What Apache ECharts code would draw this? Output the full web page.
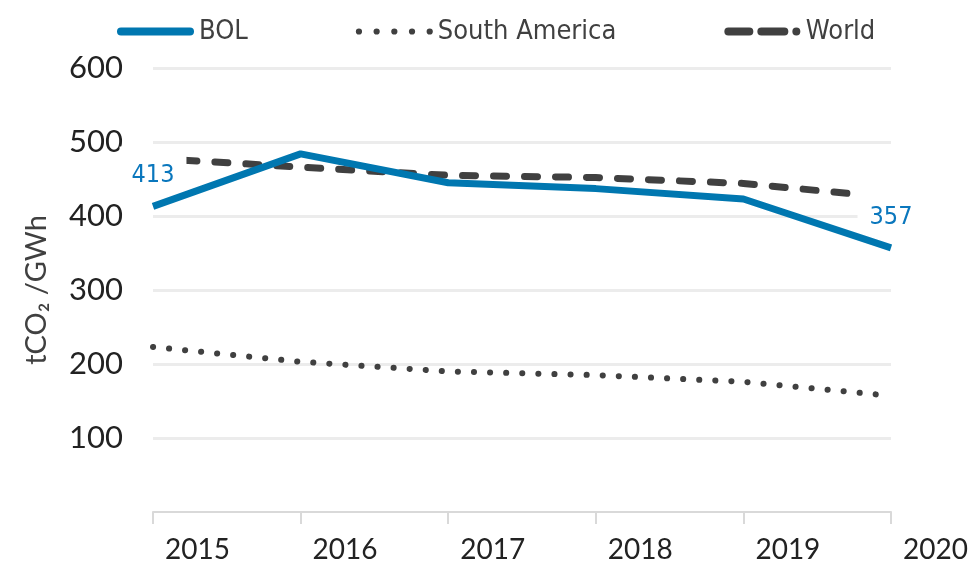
<!DOCTYPE html>
<html>
<head>
<meta charset="utf-8">
<script src="https://cdn.jsdelivr.net/npm/echarts@6/dist/echarts.min.js"></script>
<style>
  html, body { margin: 0; padding: 0; background: #fff; }
  #chart { width: 969px; height: 563px; }
</style>
</head>
<body>
<div id="chart"></div>
<script>
// data
const years = ['2015', '2016', '2017', '2018', '2019', '2020']
const bol = [413, 484, 445, 437, 423, 357]
const southAmerica = [223, 203, 190, 185, 176, 157]
const world = [478, 466, 455, 452, 444, 425]

const narrow = "'Liberation Sans Narrow', 'DejaVu Sans Condensed', 'Roboto', sans-serif"

// legend icons: thick line, row of dots, dash-dash-dot
const dot = (cx, r) => 'M' + (cx - r) + ',4 A' + r + ',' + r + ' 0 1,0 ' + (cx + r) + ',4 A' + r + ',' + r + ' 0 1,0 ' + (cx - r) + ',4 Z '
const pill = (x0, x1) => 'M' + (x0 + 4) + ',0 H' + (x1 - 4) + ' A4,4 0 0,1 ' + (x1 - 4) + ',8 H' + (x0 + 4) + ' A4,4 0 0,1 ' + (x0 + 4) + ',0 Z '
const iconLine = 'path://' + pill(0, 77)
const iconDots = 'path://' + [3, 20, 37, 54, 71].map(c => dot(c, 3)).join('')
const iconDash = 'path://' + pill(0, 29) + pill(33, 64) + dot(72, 4)

// first and last BOL values get a label on a white box
const last = bol.length - 1
const bolMarks = [
  { coord: [years[0], bol[0]], value: bol[0] },
  { coord: [years[last], bol[last]], value: bol[last] }
]

const chart = echarts.init(document.getElementById('chart'))
chart.setOption({
  animation: false,
  legend: {
    top: 13,
    left: 112,
    itemWidth: 77,
    itemHeight: 8,
    itemGap: 108,
    textStyle: { fontSize: 27, color: '#404040', fontFamily: narrow },
    data: [
      { name: 'BOL', icon: iconLine },
      { name: 'South America', icon: iconDots },
      { name: 'World', icon: iconDash }
    ]
  },
  grid: { left: 153, right: 78, top: 68, bottom: 51, outerBoundsMode: 'none' },
  xAxis: {
    type: 'category',
    boundaryGap: false,
    data: years,
    axisLine: { lineStyle: { color: '#d9d9d9', width: 2 } },
    axisTick: { show: true, length: 12, lineStyle: { color: '#d9d9d9', width: 2 } },
    axisLabel: {
      color: '#222',
      fontSize: 28,
      fontFamily: 'Lato, sans-serif',
      margin: 24,
      align: 'left',
      padding: [0, 0, 0, 12]
    }
  },
  yAxis: {
    type: 'value',
    min: 0,
    max: 600,
    interval: 100,
    name: 'tCO₂ /GWh',
    nameLocation: 'middle',
    nameGap: 102,
    nameTextStyle: { fontSize: 29, color: '#404040', fontFamily: 'Lato, sans-serif' },
    axisLine: { show: false },
    axisTick: { show: false },
    axisLabel: {
      color: '#222',
      fontSize: 31,
      fontFamily: 'Lato, sans-serif',
      margin: 30,
      formatter: v => (v === 0 ? '' : v)
    },
    splitLine: {
      show: true,
      lineStyle: { color: ['rgba(0,0,0,0)', '#ececec', '#ececec', '#ececec', '#ececec', '#ececec', '#ececec'], width: 3 }
    }
  },
  series: [
    {
      name: 'BOL',
      type: 'line',
      data: bol,
      symbol: 'none',
      z: 3,
      lineStyle: { color: '#0077b0', width: 7 },
      itemStyle: { color: '#0077b0' },
      markPoint: {
        z: 10,
        symbol: 'circle',
        symbolSize: 0,
        data: bolMarks,
        label: {
          show: true,
          position: 'top',
          distance: 17,
          formatter: '{c}',
          color: '#0a77bd',
          fontSize: 25,
          fontFamily: narrow,
          backgroundColor: '#fff',
          padding: [17, 12, 1, 12]
        }
      }
    },
    {
      name: 'South America',
      type: 'line',
      data: southAmerica,
      symbol: 'none',
      z: 2,
      lineStyle: { color: '#404040', width: 6, type: [0.1, 16], cap: 'round' },
      itemStyle: { color: '#404040' }
    },
    {
      name: 'World',
      type: 'line',
      data: world,
      symbol: 'none',
      z: 2,
      lineStyle: { color: '#404040', width: 7, type: [13, 18], cap: 'round' },
      itemStyle: { color: '#404040' }
    }
  ]
})
</script>
</body>
</html>
